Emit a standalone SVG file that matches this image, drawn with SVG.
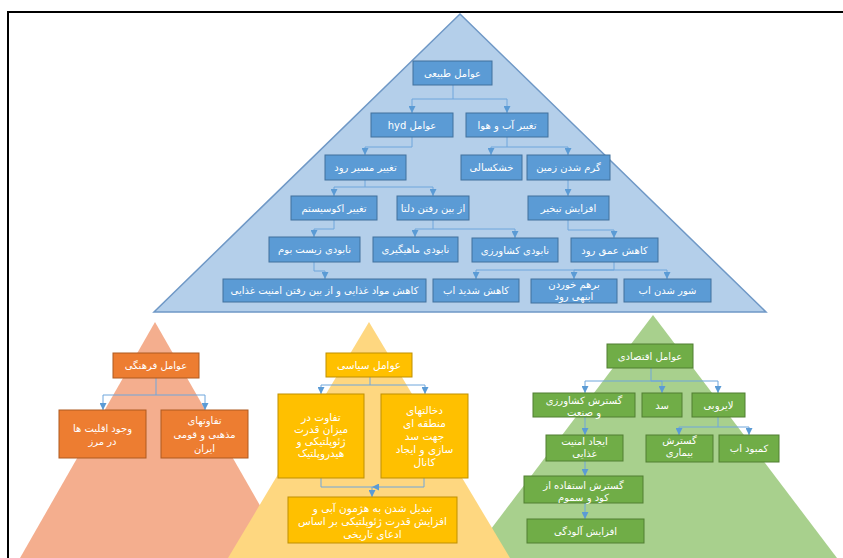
<svg xmlns="http://www.w3.org/2000/svg" width="843" height="558" viewBox="0 0 843 558">
<style>
text{font-family:"DejaVu Sans","Noto Sans",sans-serif;font-size:10px;fill:#fff;text-anchor:middle;direction:rtl}
.b rect{fill:#5b9bd5;stroke:#41719c;stroke-width:1}
.o rect{fill:#ed7d31;stroke:#ae5a21;stroke-width:1}
.y rect{fill:#ffc000;stroke:#bf9000;stroke-width:1}
.y text{font-size:10.5px}
.g rect{fill:#70ad47;stroke:#507e32;stroke-width:1}
#connectors path{fill:none;stroke:#6fa6dc;stroke-width:1;marker-end:url(#arr)}
</style>
<defs>
<marker id="arr" viewBox="0 0 10 10" refX="10" refY="5" markerWidth="7" markerHeight="7" orient="auto" markerUnits="userSpaceOnUse">
<path d="M0,0 L10,5 L0,10 z" fill="#5b9bd5"/>
</marker>
</defs>
<rect width="843" height="558" fill="#fff"/>
<path d="M8,558 V12 H843" fill="none" stroke="#000" stroke-width="2"/>
<g id="backgrounds">
<polygon points="460,14 766,312 154,312" fill="#b4cfea" stroke="#6f98c6" stroke-width="1.5"/>
<polygon points="155,322 290,558 20,558" fill="#f4ae8e"/>
<polygon points="653,315 837,558 469,558" fill="#a8d08d"/>
<polygon points="369,322 510,558 228,558" fill="#fed780"/>
</g>
<g id="connectors">
<path d="M453,85 V99 H412 V113"/>
<path d="M453,99 H507 V113"/>
<path d="M412,137 V147 H365 V155"/>
<path d="M507,137 V147 H491 V155"/>
<path d="M507,147 H568 V155"/>
<path d="M365,180 V187 H334 V196"/>
<path d="M365,187 H433 V196"/>
<path d="M568,180 V196"/>
<path d="M334,220 V229 H314 V237"/>
<path d="M433,220 V229 H415 V237"/>
<path d="M433,229 H515 V238"/>
<path d="M568,220 V230 H614 V238"/>
<path d="M314,262 V271 H325 V279"/>
<path d="M614,262 V270 H476 V279"/>
<path d="M614,270 H574 V279"/>
<path d="M614,270 H667 V279"/>
<path d="M156,378 V395 H103 V410"/>
<path d="M156,395 H205 V410"/>
<path d="M370,377 V385 H321 V394"/>
<path d="M370,385 H425 V394"/>
<path d="M321,478 V487 H372 V497"/>
<path d="M424,478 V487 H372"/>
<path d="M651,368 V381 H585 V393"/>
<path d="M651,381 H662 V393"/>
<path d="M651,381 H718 V393"/>
<path d="M718,417 V427 H679 V435"/>
<path d="M718,427 H749 V435"/>
<path d="M585,417 V435"/>
<path d="M585,461 V476"/>
<path d="M585,503 V519"/>
</g>
<g id="n1" class="b"><rect x="413" y="61" width="79" height="24"/><text x="452.5" y="76.5">عوامل طبیعی</text></g>
<g id="n2" class="b"><rect x="371" y="113" width="82" height="24"/><text x="412" y="128.5">عوامل hyd</text></g>
<g id="n3" class="b"><rect x="466" y="113" width="82" height="24"/><text x="507" y="128.5">تغییر آب و هوا</text></g>
<g id="n4" class="b"><rect x="325" y="155" width="81" height="25"/><text x="365.5" y="171">تغییر مسیر رود</text></g>
<g id="n5" class="b"><rect x="461" y="155" width="61" height="25"/><text x="491.5" y="171">خشکسالی</text></g>
<g id="n6" class="b"><rect x="527" y="155" width="83" height="25"/><text x="568.5" y="171">گرم شدن زمین</text></g>
<g id="n7" class="b"><rect x="291" y="196" width="86" height="24"/><text x="334" y="211.5">تغییر اکوسیستم</text></g>
<g id="n8" class="b"><rect x="397" y="196" width="72" height="24"/><text x="433" y="211.5">از بین رفتن دلتا</text></g>
<g id="n9" class="b"><rect x="528" y="196" width="81" height="24"/><text x="568.5" y="211.5">افزایش تبخیر</text></g>
<g id="n10" class="b"><rect x="269" y="237" width="91" height="25"/><text x="314.5" y="253">نابودی زیست بوم</text></g>
<g id="n11" class="b"><rect x="373" y="237" width="85" height="25"/><text x="415.5" y="253">نابودی ماهیگیری</text></g>
<g id="n12" class="b"><rect x="472" y="238" width="86" height="24"/><text x="515" y="253.5">نابودی کشاورزی</text></g>
<g id="n13" class="b"><rect x="571" y="238" width="87" height="24"/><text x="614.5" y="253.5">کاهش عمق رود</text></g>
<g id="n14" class="b"><rect x="223" y="279" width="203" height="23"/><text x="324.5" y="294">کاهش مواد غذایی و از بین رفتن امنیت غذایی</text></g>
<g id="n15" class="b"><rect x="433" y="279" width="86" height="23"/><text x="476" y="294">کاهش شدید اب</text></g>
<g id="n16" class="b"><rect x="531" y="279" width="86" height="24"/><text x="574" y="287.5">برهم خوردن</text><text x="574" y="300">ابنهی رود</text></g>
<g id="n17" class="b"><rect x="624" y="279" width="87" height="23"/><text x="667.5" y="294">شور شدن اب</text></g>
<g id="o1" class="o"><rect x="113" y="353" width="86" height="25"/><text x="156" y="369">عوامل فرهنگی</text></g>
<g id="o2" class="o"><rect x="59" y="410" width="87" height="48"/><text x="102.5" y="431.5">وجود اقلیت ها</text><text x="102.5" y="444.5">در مرز</text></g>
<g id="o3" class="o"><rect x="161" y="410" width="87" height="48"/><text x="204.5" y="423.5">تفاوتهای</text><text x="204.5" y="437.5">مذهبی و قومی</text><text x="204.5" y="451.5">ایران</text></g>
<g id="y1" class="y"><rect x="326" y="353" width="86" height="24"/><text x="369" y="368.5">عوامل سیاسی</text></g>
<g id="y2" class="y"><rect x="278" y="394" width="86" height="84"/><text x="321" y="420.5">تفاوت در</text><text x="321" y="432.5">میزان قدرت</text><text x="321" y="444.5">ژئوپلتیکی و</text><text x="321" y="456.5">هیدروپلتیک</text></g>
<g id="y3" class="y"><rect x="381" y="394" width="87" height="84"/><text x="424.5" y="413.5">دخالتهای</text><text x="424.5" y="426.5">منطقه ای</text><text x="424.5" y="439.5">جهت سد</text><text x="424.5" y="452.5">سازی و ایجاد</text><text x="424.5" y="465.5">کانال</text></g>
<g id="y4" class="y"><rect x="288" y="497" width="169" height="46"/><text x="372.5" y="511.5">تبدیل شدن به هژمون آبی و</text><text x="372.5" y="524.5">افزایش قدرت ژئوپلتیکی بر اساس</text><text x="372.5" y="537.5">ادعای تاریخی</text></g>
<g id="g1" class="g"><rect x="607" y="344" width="86" height="24"/><text x="650" y="359.5">عوامل اقتصادی</text></g>
<g id="g2" class="g"><rect x="533" y="393" width="102" height="24"/><text x="584" y="403.5">گسترش کشاورزی</text><text x="584" y="415.5">و صنعت</text></g>
<g id="g3" class="g"><rect x="642" y="393" width="40" height="24"/><text x="662" y="408.5">سد</text></g>
<g id="g4" class="g"><rect x="692" y="393" width="53" height="24"/><text x="718.5" y="408.5">لایروبی</text></g>
<g id="g5" class="g"><rect x="546" y="435" width="77" height="26"/><text x="584.5" y="444.5">ایجاد امنیت</text><text x="584.5" y="456.5">غذایی</text></g>
<g id="g6" class="g"><rect x="646" y="435" width="67" height="27"/><text x="679.5" y="443.5">گسترش</text><text x="679.5" y="455.5">بیماری</text></g>
<g id="g7" class="g"><rect x="719" y="435" width="60" height="27"/><text x="749" y="452">کمبود اب</text></g>
<g id="g8" class="g"><rect x="524" y="476" width="119" height="27"/><text x="583.5" y="488.5">گسترش استفاده از</text><text x="583.5" y="501">کود و سموم</text></g>
<g id="g9" class="g"><rect x="527" y="519" width="117" height="24"/><text x="585.5" y="534.5">افزایش آلودگی</text></g>
</svg>
